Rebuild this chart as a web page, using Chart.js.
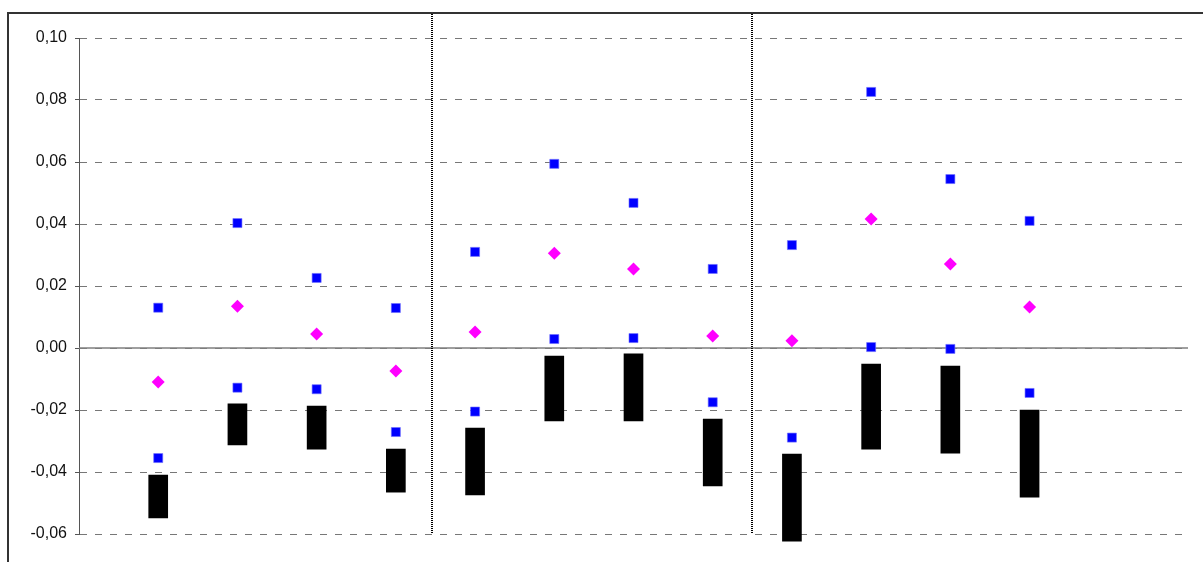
<!DOCTYPE html>
<html>
<head>
<meta charset="utf-8">
<script src="https://cdn.jsdelivr.net/npm/chart.js@4.4.1/dist/chart.umd.min.js"></script>
<style>
  body { margin: 0; background: #fff; }
  canvas { display: block; }
</style>
</head>
<body>
<canvas id="range-chart" width="1203" height="562"></canvas>
<script>
const ctx = document.getElementById("range-chart");

// one entry per measurement, three groups of four
const categories = ["1", "2", "3", "4", "5", "6", "7", "8", "9", "10", "11", "12"];
const highValues = [0.0130, 0.0403, 0.0226, 0.0129, 0.0310, 0.0594, 0.0468, 0.0255, 0.0332, 0.0826, 0.0545, 0.0410];
const midValues = [-0.0110, 0.0135, 0.0045, -0.0074, 0.0052, 0.0306, 0.0255, 0.0039, 0.0023, 0.0416, 0.0271, 0.0132];
const lowValues = [-0.0355, -0.0128, -0.0133, -0.0271, -0.0205, 0.0029, 0.0032, -0.0175, -0.0289, 0.0003, -0.0003, -0.0145];
const rangeTop = [-0.0410, -0.0180, -0.0187, -0.0326, -0.0258, -0.0026, -0.0019, -0.0229, -0.0342, -0.0052, -0.0058, -0.0200];
const rangeBottom = [-0.0548, -0.0313, -0.0326, -0.0465, -0.0474, -0.0235, -0.0235, -0.0445, -0.0623, -0.0326, -0.0339, -0.0481];
const groupDividers = [4.45, 8.5];

// x position of each category on the linear axis
const pos = (i) => i + 1;

const points = (values) => values.map((v, i) => ({ x: pos(i), y: v }));

// frame, zero line and dotted group separators
const decorations = {
  id: "decorations",
  beforeDatasetsDraw(chart) {
    const c = chart.ctx;
    const area = chart.chartArea;
    const y0 = chart.scales.y.getPixelForValue(0);
    c.save();
    c.strokeStyle = "#7f7f7f";
    c.lineWidth = 1.5;
    c.beginPath();
    c.moveTo(area.left, y0);
    c.lineTo(area.right, y0);
    c.stroke();

    c.strokeStyle = "#000";
    c.lineWidth = 2;
    c.setLineDash([1, 1]);
    groupDividers.forEach((d) => {
      const x = Math.round(chart.scales.x.getPixelForValue(d));
      c.beginPath();
      c.moveTo(x, 14);
      c.lineTo(x, area.bottom);
      c.stroke();
    });
    c.setLineDash([]);

    c.strokeStyle = "#333";
    c.lineWidth = 2;
    c.beginPath();
    c.moveTo(8, chart.height);
    c.lineTo(8, 13);
    c.lineTo(chart.width, 13);
    c.stroke();
    c.restore();
  },
};

new Chart(ctx, {
  type: "bar",
  data: {
    labels: categories,
    datasets: [
      {
        type: "scatter",
        data: points(highValues),
        pointStyle: "rect",
        pointRadius: 6.4,
        backgroundColor: "#0000ff",
        borderColor: "#6f6fff",
        borderWidth: 0.6,
        order: 1,
      },
      {
        type: "scatter",
        data: points(midValues),
        pointStyle: "rectRot",
        pointRadius: 6.5,
        backgroundColor: "#ff00ff",
        borderColor: "#ff00ff",
        borderWidth: 0,
        order: 1,
      },
      {
        type: "scatter",
        data: points(lowValues),
        pointStyle: "rect",
        pointRadius: 6.4,
        backgroundColor: "#0000ff",
        borderColor: "#6f6fff",
        borderWidth: 0.6,
        order: 1,
      },
      {
        type: "bar",
        data: rangeTop.map((t, i) => ({ x: pos(i), y: [rangeBottom[i], t] })),
        backgroundColor: "#000",
        borderWidth: 0,
        barThickness: 19,
        grouped: false,
        clip: false,
        order: 2,
      },
    ],
  },
  options: {
    responsive: false,
    animation: false,
    layout: {
      padding: { left: 0, top: 38, right: 15, bottom: 28 },
    },
    scales: {
      x: {
        type: "linear",
        min: 0,
        max: 14,
        display: false,
        offset: false,
      },
      y: {
        min: -0.06,
        max: 0.1,
        afterFit: (scale) => {
          scale.width = 79;
        },
        ticks: {
          stepSize: 0.02,
          padding: 8,
          color: "#111",
          font: { family: "Liberation Sans, Arial, sans-serif", size: 16 },
          callback: (v) => {
            const r = Math.round(v * 100) / 100;
            return (Math.abs(r) < 1e-9 ? 0 : r).toFixed(2).replace(".", ",");
          },
        },
        grid: {
          color: "#777",
          lineWidth: 1,
          drawTicks: true,
          tickLength: 4,
          tickColor: "#555",
          tickBorderDash: [],
        },
        border: {
          display: true,
          color: "#555",
          width: 1,
          dash: [7, 8],
        },
      },
    },
    plugins: {
      legend: { display: false },
      tooltip: { enabled: false },
    },
  },
  plugins: [decorations],
});
</script>
</body>
</html>
